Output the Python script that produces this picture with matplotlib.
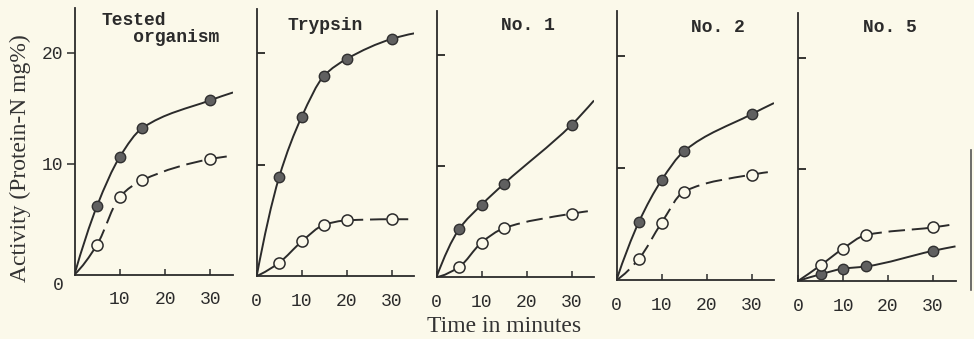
import matplotlib.pyplot as plt
from matplotlib.path import Path
from matplotlib.patches import PathPatch
from matplotlib.lines import Line2D

# values (Protein-N mg%)
titles = ["Tested\n   organism", "Trypsin", "No. 1", "No. 2", "No. 5"]
times = [[5, 10, 15, 30], [5, 10, 15, 20, 30], [5, 10, 15, 30], [5, 10, 15, 30], [5, 10, 15, 30]]
filled = [[6.2, 10.6, 13.2, 15.7],
          [8.9, 14.3, 18.0, 19.5, 21.3],
          [4.3, 6.5, 8.4, 13.7],
          [5.2, 8.9, 11.5, 14.8],
          [0.6, 1.1, 1.3, 2.7]]
opened = [[2.7, 7.0, 8.5, 10.4],
          [1.2, 3.1, 4.6, 5.0, 5.1],
          [0.9, 3.1, 4.4, 5.7],
          [1.9, 5.1, 7.9, 9.4],
          [1.4, 2.9, 4.1, 4.8]]
# where the drawn curves end at t = 35
filled_end = [16.4, 21.8, 15.9, 15.8, 3.1]
opened_end = [10.7, 5.1, 6.0, 9.7, 5.1]
# open curve turns dashed from this time on
dash_from = [5, 20, 15, 0, 15]

W, H = 974, 339
BG = "#fbf9ea"
INK = "#2b2b2b"
MONO = "Liberation Mono"
SERIF = "Liberation Serif"

# panel frames in pixels: origin x, zero y, px per minute, px per unit
frames = [(74.5, 274.5, 4.53, 11.1),
          (256.7, 276.0, 4.5, 11.13),
          (436.5, 277.0, 4.5, 11.1),
          (616.5, 280.0, 4.5, 11.2),
          (798.0, 281.0, 4.5, 11.17)]
title_pos = [(101, 20), (325, 25), (528, 25), (718, 27), (890, 27)]


def end_slope(h0, h1, d0, d1):
    m = ((2 * h0 + h1) * d0 - h0 * d1) / (h0 + h1)
    if m * d0 <= 0:
        return 0.0
    if d0 * d1 <= 0 and abs(m) > abs(3 * d0):
        return 3 * d0
    return m


def smooth_segments(xs, ys):
    # monotone cubic (Fritsch-Butland tangents) drawn as Bezier segments
    n = len(xs)
    h = [xs[i + 1] - xs[i] for i in range(n - 1)]
    d = [(ys[i + 1] - ys[i]) / h[i] for i in range(n - 1)]
    m = [0.0] * n
    for i in range(1, n - 1):
        if d[i - 1] * d[i] <= 0:
            m[i] = 0.0
        else:
            w1 = 2 * h[i] + h[i - 1]
            w2 = h[i] + 2 * h[i - 1]
            m[i] = (w1 + w2) / (w1 / d[i - 1] + w2 / d[i])
    m[0] = end_slope(h[0], h[1], d[0], d[1])
    m[-1] = end_slope(h[-1], h[-2], d[-1], d[-2])
    segs = []
    for i in range(n - 1):
        p1 = (xs[i], ys[i])
        p2 = (xs[i + 1], ys[i + 1])
        c1 = (xs[i] + h[i] / 3, ys[i] + m[i] * h[i] / 3)
        c2 = (xs[i + 1] - h[i] / 3, ys[i + 1] - m[i + 1] * h[i] / 3)
        segs.append((p1, c1, c2, p2))
    return segs


def draw_curve(ax, xs, ys, dash_start=None):
    for p1, c1, c2, p2 in smooth_segments(xs, ys):
        path = Path([p1, c1, c2, p2], [Path.MOVETO, Path.CURVE4, Path.CURVE4, Path.CURVE4])
        style = "-"
        if dash_start is not None and p1[0] >= dash_start:
            style = (0, (8.5, 3.5))
        ax.add_patch(PathPatch(path, fill=False, edgecolor=INK, lw=1.4,
                               linestyle=style, capstyle="butt", zorder=2))


fig = plt.figure(figsize=(W / 100, H / 100), dpi=100, facecolor=BG)

for k in range(5):
    ox, oy, pxm, pxu = frames[k]
    ax = fig.add_axes([ox / W, 1 - oy / H, 35 * pxm / W, 24 * pxu / H])
    ax.set_facecolor("none")
    ax.set_xlim(0, 35)
    ax.set_ylim(0, 24)
    for s in ["top", "right"]:
        ax.spines[s].set_visible(False)
    for s in ["left", "bottom"]:
        ax.spines[s].set_linewidth(1.3)
        ax.spines[s].set_color(INK)

    t = times[k]
    draw_curve(ax, [0] + t + [35], [0] + filled[k] + [filled_end[k]])
    draw_curve(ax, [0] + t + [35], [0] + opened[k] + [opened_end[k]], dash_start=dash_from[k])
    ax.plot(t, filled[k], "o", ms=7.5, mfc="#606060", mec="#303030", mew=1.0,
            linestyle="none", zorder=3, clip_on=False)
    ax.plot(t, opened[k], "o", ms=8, mfc=BG, mec=INK, mew=1.1,
            linestyle="none", zorder=3, clip_on=False)

    ax.set_yticks([10, 20])
    if k == 0:
        ax.set_xticks([10, 20, 30])
        ax.tick_params(axis="y", direction="out", length=6, width=1.1, pad=2,
                       labelsize=13, colors=INK)
        ax.set_yticklabels(["10", "20"], family=MONO)
        fig.text(58 / W, 1 - 285 / H, "0", family=MONO, fontsize=13,
                 color=INK, ha="center", va="center")
    else:
        ax.set_xticks([0, 10, 20, 30])
        ax.tick_params(axis="y", direction="in", length=6, width=1.1, labelleft=False)
    ax.tick_params(axis="x", direction="in", length=4, width=1.1, pad=12,
                   labelsize=13, colors=INK)
    ax.set_xticklabels([str(v) for v in ax.get_xticks().astype(int)], family=MONO)

    tx, ty = title_pos[k]
    if k == 0:
        fig.text(tx / W, 1 - 29 / H, titles[k], family=MONO, fontsize=13,
                 weight="bold", color=INK, ha="left", va="center", linespacing=0.95)
    else:
        fig.text(tx / W, 1 - ty / H, titles[k], family=MONO, fontsize=13,
                 weight="bold", color=INK, ha="center", va="center")

fig.text(20 / W, 1 - 158 / H, "Activity (Protein-N mg%)", family=SERIF, fontsize=17,
         color="#333333", rotation=90, ha="center", va="center")
fig.text(504 / W, 1 - 326 / H, "Time in minutes", family=SERIF, fontsize=17,
         color="#333333", ha="center", va="center")

# edge of the next (cut off) panel at the right border
fig.add_artist(Line2D([971 / W, 971 / W], [1 - 290 / H, 1 - 150 / H],
                      color="#555555", lw=1.2))

fig.savefig("out.png", dpi=100, facecolor=BG)
